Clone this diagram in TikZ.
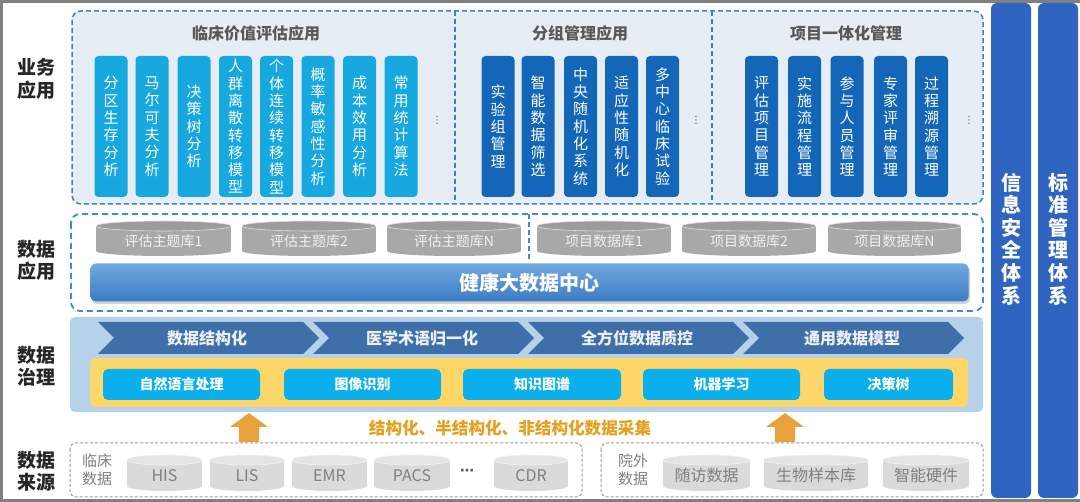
\documentclass[tikz,border=0pt]{standalone}
\usepackage{fontspec}
\setmainfont{Noto Sans CJK SC}
\newfontfamily\dejavu{DejaVu Sans}
\usetikzlibrary{shadows}
\definecolor{frameG}{HTML}{808080}
\definecolor{appfill}{HTML}{E6EDF5}
\definecolor{dashB}{HTML}{3C80C6}
\definecolor{dashB2}{HTML}{3F8AD8}
\definecolor{cyanA}{HTML}{17A8E0}
\definecolor{blueD}{HTML}{1366B8}
\definecolor{titleG}{HTML}{595959}
\definecolor{labelK}{HTML}{262626}
\definecolor{cylBody}{HTML}{A8A8A8}
\definecolor{cylTop}{HTML}{9C9C9C}
\definecolor{lcylBody}{HTML}{DADADA}
\definecolor{lcylTop}{HTML}{E4E4E4}
\definecolor{hubTop}{HTML}{71A8DF}
\definecolor{hubBot}{HTML}{3C7CC5}
\definecolor{govFill}{HTML}{B6D1EA}
\definecolor{chevB}{HTML}{3F6FA8}
\definecolor{yellowB}{HTML}{FDD769}
\definecolor{cyanB}{HTML}{0AAFEB}
\definecolor{orangeA}{HTML}{E9A23B}
\definecolor{orangeT}{HTML}{E6A020}
\definecolor{sideB}{HTML}{2F65C1}
\definecolor{grayDash}{HTML}{9A9A9A}
\definecolor{grayT}{HTML}{808080}
\newcommand{\dbcyl}[7]{%
 \pgfmathsetmacro{\dbcx}{(#2+#3)/2}%
 \pgfmathsetmacro{\dbrx}{(#3-#2)/2}%
 \fill[#7body] (#2,#4+5) rectangle (#3,#5-5);
 \fill[#7body] (\dbcx,#5-5) ellipse [x radius=\dbrx pt, y radius=5pt];
 \fill[#7top] (\dbcx,#4+5) ellipse [x radius=\dbrx pt, y radius=5pt];
 \node[#7text] (#1) at (\dbcx,{(#4+#5)/2+2.5}) {#6};
}
\begin{document}
\begin{tikzpicture}[x=1pt,y=-1pt,
 vbox/.style={rounded corners=4pt, minimum width=33pt, minimum height=141pt, inner sep=0pt, align=center, text=white, font=\fontsize{15}{17.3}\selectfont},
 lbox/.style={vbox, fill=cyanA},
 dbox/.style={vbox, fill=blueD},
 sectitle/.style={font=\bfseries\fontsize{16}{18}\selectfont, text=titleG},
 sidelabel/.style={font=\bfseries\fontsize{19}{22.5}\selectfont, text=labelK, align=center},
 dotsN/.style={font=\dejavu\fontsize{10}{10}\selectfont, text=titleG},
 gcylbody/.style={fill=cylBody},
 gcyltop/.style={fill=cylTop, draw=white!70!cylTop, line width=0.6pt},
 gcyltext/.style={font=\fontsize{14}{16}\selectfont, text=white!94!black},
 lcylbody/.style={fill=lcylBody},
 lcyltop/.style={fill=lcylTop, draw=white!60!lcylTop, line width=0.6pt},
 lcyltext/.style={font=\fontsize{16}{18}\selectfont, text=grayT},
 chevtext/.style={font=\bfseries\fontsize{16}{18}\selectfont, text=white!90!chevB},
 cbox/.style={fill=cyanB, rounded corners=5pt, minimum height=31pt, inner sep=0pt, text=white, font=\bfseries\fontsize{14}{16}\selectfont},
 srcbox/.style={draw=grayDash, dash pattern=on 3pt off 2pt, line width=1pt, rounded corners=6pt, fill=white},
 srclabel/.style={font=\fontsize{15}{18}\selectfont, text=grayT, align=center},
 sidebar/.style={fill=sideB, rounded corners=6pt},
 sidetext/.style={font=\bfseries\fontsize{20}{22.6}\selectfont, text=white, align=center},
 uparrow/.style={fill=orangeA}
]
\useasboundingbox (0,0) rectangle (1080,502);
\fill[white] (0,0) rectangle (1080,502);
\draw[frameG, line width=3pt] (1080,1.5) -- (1.5,1.5) -- (1.5,500.5) -- (1080,500.5);

% left labels
\node[sidelabel] (lbiz) at (36,79) {业务\\应用};
\node[sidelabel] (lapp) at (36,260.5) {数据\\应用};
\node[sidelabel] (lgov) at (36,366.5) {数据\\治理};
\node[sidelabel] (lsrc) at (36,471.5) {数据\\来源};

% business application
\draw[dashB, fill=appfill, line width=1.5pt, dash pattern=on 5pt off 3pt, rounded corners=9pt] (72,11) rectangle (983,204);
\draw[dashB, line width=1.5pt, dash pattern=on 5pt off 3pt] (455,11) -- (455,204);
\draw[dashB, line width=1.5pt, dash pattern=on 5pt off 3pt] (712,11) -- (712,204);
\node[sectitle] (t1) at (256,33) {临床价值评估应用};
\node[sectitle] (t2) at (580,33) {分组管理应用};
\node[sectitle] (t3) at (846,33) {项目一体化管理};

\foreach \x/\t [count=\i] in {111/{分\\区\\生\\存\\分\\析},152/{马\\尔\\可\\夫\\分\\析},194/{决\\策\\树\\分\\析},235.5/{人\\群\\离\\散\\转\\移\\模\\型},276.5/{个\\体\\连\\续\\转\\移\\模\\型},318/{概\\率\\敏\\感\\性\\分\\析},359.5/{成\\本\\效\\用\\分\\析},401/{常\\用\\统\\计\\算\\法}}
  \node[lbox] (c\i) at (\x,126.5) {\t};
\foreach \x/\t [count=\i] in {498/{实\\验\\组\\管\\理},538/{智\\能\\数\\据\\筛\\选},580.5/{中\\央\\随\\机\\化\\系\\统},621.5/{适\\应\\性\\随\\机\\化},662.5/{多\\中\\心\\临\\床\\试\\验}}
  \node[dbox] (g\i) at (\x,126.5) {\t};
\foreach \x/\t [count=\i] in {761.5/{评\\估\\项\\目\\管\\理},804.5/{实\\施\\流\\程\\管\\理},847/{参\\与\\人\\员\\管\\理},890.5/{专\\家\\评\\审\\管\\理},931.5/{过\\程\\溯\\源\\管\\理}}
  \node[dbox] (p\i) at (\x,126.5) {\t};
\node[dotsN] (d1) at (437,120) {⋮};
\node[dotsN] (d2) at (696,120) {⋮};
\node[dotsN] (d3) at (969,120) {⋮};

% data application
\draw[dashB2, fill=white, line width=1.8pt, dash pattern=on 6pt off 4pt, rounded corners=9pt] (71,214) rectangle (983,311);
\draw[dashB2, line width=1.5pt, dash pattern=on 5pt off 3pt] (529,214) -- (529,262);
\dbcyl{e1}{96}{231}{221}{256}{评估主题库1}{gcyl}
\dbcyl{e2}{242}{376}{221}{256}{评估主题库2}{gcyl}
\dbcyl{e3}{387}{521}{221}{256}{评估主题库N}{gcyl}
\dbcyl{q1}{537}{671}{221}{256}{项目数据库1}{gcyl}
\dbcyl{q2}{682}{816}{221}{256}{项目数据库2}{gcyl}
\dbcyl{q3}{828}{961}{221}{256}{项目数据库N}{gcyl}
\node[rounded corners=5pt, top color=hubTop, bottom color=hubBot, minimum width=878pt, minimum height=38pt, inner sep=0pt, text=white, font=\bfseries\fontsize{20}{22}\selectfont, drop shadow={shadow xshift=1.5pt, shadow yshift=-2.5pt, opacity=0.35}] (hub) at (529.5,282.5) {健康大数据中心};

% data governance
\fill[govFill, rounded corners=5pt] (70,317) rectangle (983,412);
\foreach \t [count=\i] in {数据结构化,医学术语归一化,全方位数据质控,通用数据模型}{
  \pgfmathsetmacro{\xo}{98+215*(\i-1)}
  \fill[chevB] (\xo,322) -- (\xo+205,322) -- (\xo+221,338) -- (\xo+205,354) -- (\xo,354) -- (\xo+16,338) -- cycle;
  \node[chevtext] (ch\i) at (\xo+109,338) {\t};
}
\fill[yellowB, rounded corners=6pt] (90,358) rectangle (968,407);
\node[cbox, minimum width=157pt] (m1) at (181.5,384.5) {自然语言处理};
\node[cbox, minimum width=157pt] (m2) at (362.5,384.5) {图像识别};
\node[cbox, minimum width=158pt] (m3) at (542,384.5) {知识图谱};
\node[cbox, minimum width=157pt] (m4) at (721.5,384.5) {机器学习};
\node[cbox, minimum width=129pt] (m5) at (888.5,384.5) {决策树};

% arrows and caption
\fill[uparrow] (239,442) -- (239,427) -- (230,427) -- (249,413) -- (268,427) -- (259,427) -- (259,442) -- cycle;
\fill[uparrow] (775,442) -- (775,427) -- (766,427) -- (785,413) -- (804,427) -- (795,427) -- (795,442) -- cycle;
\node[font=\bfseries\fontsize{16.6}{18}\selectfont, text=orangeT] (cap) at (510,428) {结构化、半结构化、非结构化数据采集};

% data sources
\draw[srcbox] (70,443) rectangle (582,497);
\node[srclabel] (clin) at (97,470) {临床\\数据};
\dbcyl{s1}{127}{202}{455}{491}{HIS}{lcyl}
\dbcyl{s2}{210}{284}{455}{491}{LIS}{lcyl}
\dbcyl{s3}{292}{367}{455}{491}{EMR}{lcyl}
\dbcyl{s4}{374}{450}{455}{491}{PACS}{lcyl}
\node[font=\dejavu\bfseries\fontsize{14}{14}\selectfont, text=titleG] (sdots) at (467,472) {⋯};
\dbcyl{s5}{494}{568}{455}{491}{CDR}{lcyl}
\draw[srcbox] (601,443) rectangle (983,497);
\node[srclabel] (outside) at (633,470) {院外\\数据};
\dbcyl{o1}{663}{750}{455}{491}{随访数据}{lcyl}
\dbcyl{o2}{764}{868}{455}{491}{生物样本库}{lcyl}
\dbcyl{o3}{883}{969}{455}{491}{智能硬件}{lcyl}

% side bars
\fill[sidebar] (991,3) rectangle (1031,498);
\fill[sidebar] (1038,3) rectangle (1078,498);
\node[sidetext] (sec) at (1011,239) {信\\息\\安\\全\\体\\系};
\node[sidetext] (std) at (1058,239) {标\\准\\管\\理\\体\\系};
\end{tikzpicture}
\end{document}
